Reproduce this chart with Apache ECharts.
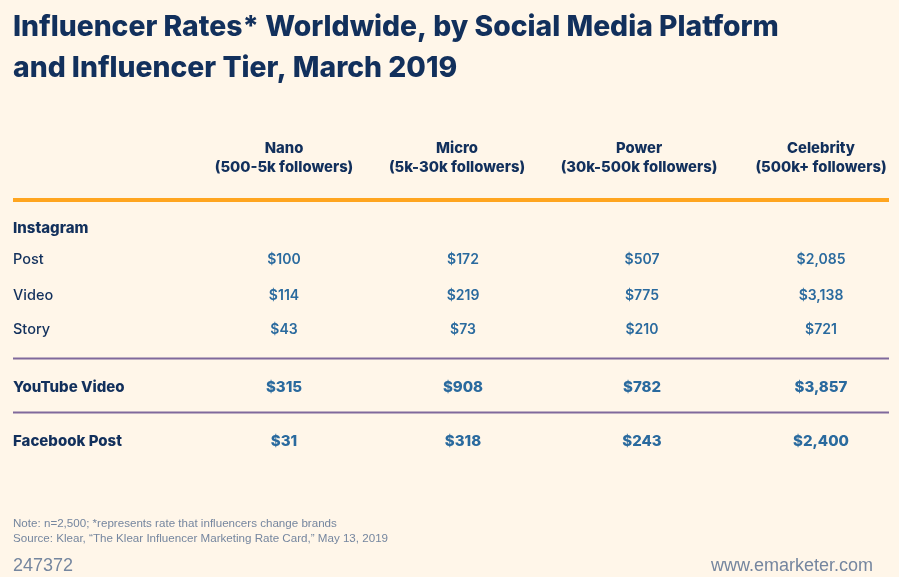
<!DOCTYPE html>
<html>
<head>
<meta charset="utf-8">
<style>html,body{margin:0;padding:0;background:#fff6e9}#chart{width:899px;height:577px}</style>
<script src="https://cdn.jsdelivr.net/npm/echarts@6/dist/echarts.min.js"></script>
</head>
<body>
<div id="chart"></div>
<script>
// table contents
const titleLines = ['Influencer Rates* Worldwide, by Social Media Platform', 'and Influencer Tier, March 2019'];
const tiers = ['Nano', 'Micro', 'Power', 'Celebrity'];
const tierRanges = ['(500-5k followers)', '(5k-30k followers)', '(30k-500k followers)', '(500k+ followers)'];
const rowNames = ['Post', 'Video', 'Story', 'YouTube Video', 'Facebook Post'];
const nano = [100, 114, 43, 315, 31];
const micro = [172, 219, 73, 908, 318];
const power = [507, 775, 210, 782, 243];
const celebrity = [2085, 3138, 721, 3857, 2400];
const notes = ['Note: n=2,500; *represents rate that influencers change brands',
  'Source: Klear, \u201cThe Klear Influencer Marketing Rate Card,\u201d May 13, 2019'];

// layout, in page pixels
const NAVY = '#12305c', BLUE = '#2a6a9e', GREY = '#75869f';
const headX = [284, 457, 639, 821];
const colX = [284, 463, 642, 821];
const rowY = [260, 296, 330, 387, 441];
const LEFT = 13, RIGHT = 889;

const money = v => '$' + v.toLocaleString('en-US');

// one text item: [x, y, text] drawn by a scatter series on the pixel axes
const textSeries = (items, align, size, weight, color, font) => ({
  type: 'scatter',
  symbolSize: 0,
  silent: true,
  itemStyle: { opacity: 1 },
  data: items,
  label: {
    show: true, position: 'inside', align: align, verticalAlign: 'middle',
    fontFamily: font || 'Inter', fontSize: size, fontWeight: weight, color: color, opacity: 1,
    formatter: p => p.value[2]
  }
});

const rule = (y, color, width) => ({
  type: 'line',
  symbol: 'none',
  silent: true,
  data: [[LEFT, y], [RIGHT, y]],
  lineStyle: { color: color, width: width }
});

const valueItems = (from, to) => {
  const out = [];
  [nano, micro, power, celebrity].forEach((col, c) => {
    for (let r = from; r < to; r++) out.push([colX[c], rowY[r], money(col[r])]);
  });
  return out;
};

const chart = echarts.init(document.getElementById('chart'), null, { renderer: 'canvas' });
chart.setOption({
  backgroundColor: '#fff6e9',
  animation: false,
  grid: { left: 0, right: 0, top: 0, bottom: 0 },
  xAxis: { type: 'value', min: 0, max: 899, show: false },
  yAxis: { type: 'value', min: 0, max: 577, inverse: true, show: false },
  series: [
    rule(200, '#ffa51f', 4),
    rule(358.5, '#80699c', 2),
    rule(412.5, '#80699c', 2),
    textSeries(titleLines.map((t, i) => [LEFT, [27, 68][i], t]), 'left', 28.3, 800, NAVY),
    textSeries(tiers.map((t, i) => [headX[i], 149, t]), 'center', 14.8, 800, NAVY),
    textSeries(tierRanges.map((t, i) => [headX[i], 168, t]), 'center', 14.8, 800, NAVY),
    textSeries([[LEFT, 228, 'Instagram']], 'left', 15, 800, NAVY),
    textSeries(rowNames.slice(0, 3).map((t, i) => [LEFT, rowY[i], t]), 'left', 14.5, 500, NAVY),
    textSeries(rowNames.slice(3).map((t, i) => [LEFT, rowY[i + 3], t]), 'left', 15, 800, NAVY),
    textSeries(valueItems(0, 3), 'center', 14, 600, BLUE),
    textSeries(valueItems(3, 5), 'center', 15, 800, BLUE),
    textSeries(notes.map((t, i) => [LEFT, [524, 539][i], t]), 'left', 11.6, 400, GREY, 'Liberation Sans'),
    textSeries([[LEFT, 566, '247372']], 'left', 18, 400, GREY, 'Liberation Sans'),
    textSeries([[873, 566, 'www.emarketer.com']], 'right', 18, 400, GREY, 'Liberation Sans')
  ]
});
</script>
</body>
</html>
